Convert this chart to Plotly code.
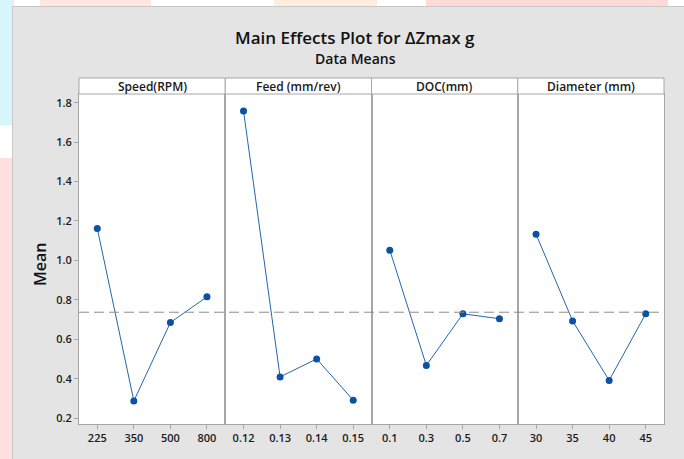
import plotly.graph_objects as go

# ---- data ----
factors = ["Speed(RPM)", "Feed (mm/rev)", "DOC(mm)", "Diameter (mm)"]
speed_levels = ["225", "350", "500", "800"]
speed_means = [1.162, 0.287, 0.685, 0.815]
feed_levels = ["0.12", "0.13", "0.14", "0.15"]
feed_means = [1.758, 0.409, 0.500, 0.291]
doc_levels = ["0.1", "0.3", "0.5", "0.7"]
doc_means = [1.052, 0.467, 0.729, 0.704]
dia_levels = ["30", "35", "40", "45"]
dia_means = [1.133, 0.693, 0.391, 0.729]
overall_mean = 0.737
y_ticks = [0.2, 0.4, 0.6, 0.8, 1.0, 1.2, 1.4, 1.6, 1.8]

levels = [speed_levels, feed_levels, doc_levels, dia_levels]
means = [speed_means, feed_means, doc_means, dia_means]

W, H = 684, 459
L, R, T, B = 79, 20, 94, 35
PW = W - L - R
PH = H - T - B


def px_x(p):
    return (p - L) / PW


def px_y(p):
    return (H - B - p) / PH


BORDER = "#a6a6a6"
TXT = "#1a1a1a"
FONT = "Open Sans"

fig = go.Figure()
layout = dict(
    width=W, height=H,
    margin=dict(l=L, r=R, t=T, b=B),
    paper_bgcolor="#e4e4e4",
    plot_bgcolor="white",
    showlegend=False,
    font=dict(family=FONT, color=TXT, size=11),
)

shapes = []
annotations = []
n = len(factors)
for i in range(n):
    xa = "x" if i == 0 else f"x{i+1}"
    ya = "y" if i == 0 else f"y{i+1}"
    xkey = "xaxis" if i == 0 else f"xaxis{i+1}"
    ykey = "yaxis" if i == 0 else f"yaxis{i+1}"
    d0, d1 = i / n, (i + 1) / n
    fig.add_trace(go.Scatter(
        x=levels[i], y=means[i], xaxis=xa, yaxis=ya,
        mode="lines+markers",
        line=dict(color="#2465ae", width=1),
        marker=dict(color="#0a52a3", size=7),
        hoverinfo="skip",
    ))
    layout[xkey] = dict(
        domain=[d0, d1], anchor=ya, type="category",
        range=[-0.5, 3.5], showgrid=False, zeroline=False,
        showline=True, mirror=True, linecolor=BORDER, linewidth=1,
        ticks="outside", ticklen=4, tickcolor=BORDER,
        tickfont=dict(size=11, color=TXT, family=FONT, weight=600),
    )
    ydict = dict(
        domain=[0, 1], anchor=xa, range=[0.17, 1.844],
        showgrid=False, zeroline=False,
        showline=True, mirror=True, linecolor=BORDER, linewidth=1,
    )
    if i == 0:
        ydict.update(tickvals=y_ticks, tickformat=".1f", ticks="outside",
                     ticklen=4, tickcolor=BORDER,
                     tickfont=dict(size=11, color=TXT, family=FONT, weight=600))
    else:
        ydict.update(matches="y", showticklabels=False, ticks="")
    layout[ykey] = ydict
    # header strip
    shapes.append(dict(type="rect", xref="paper", yref="paper",
                       x0=d0, x1=d1, y0=1, y1=1 + 16 / PH,
                       fillcolor="white", line=dict(color=BORDER, width=1)))
    annotations.append(dict(text=factors[i], xref="paper", yref="paper",
                            x=(d0 + d1) / 2, y=1 + 8 / PH, showarrow=False,
                            xanchor="center", yanchor="middle",
                            font=dict(size=12, color=TXT, family=FONT, weight=600)))

# overall mean dashed line
shapes.append(dict(type="line", xref="paper", yref="y", x0=0, x1=1,
                   y0=overall_mean, y1=overall_mean,
                   line=dict(color="#8c8c8c", width=1, dash="10px,5px")))

# outer decorations (left / top edge strips)
shapes += [
    dict(type="rect", xref="paper", yref="paper", layer="below",
         x0=px_x(0), x1=px_x(12), y0=px_y(0), y1=px_y(459),
         fillcolor="#ffe0e0", line=dict(width=0)),
    dict(type="rect", xref="paper", yref="paper", layer="below",
         x0=px_x(0), x1=px_x(12), y0=px_y(0), y1=px_y(125),
         fillcolor="#d6f6fb", line=dict(width=0)),
    dict(type="rect", xref="paper", yref="paper", layer="below",
         x0=px_x(0), x1=px_x(12), y0=px_y(125), y1=px_y(158),
         fillcolor="white", line=dict(width=0)),
    dict(type="rect", xref="paper", yref="paper", layer="below",
         x0=px_x(0), x1=px_x(684), y0=px_y(0), y1=px_y(6),
         fillcolor="white", line=dict(width=0)),
    dict(type="rect", xref="paper", yref="paper", layer="below",
         x0=px_x(0), x1=px_x(14), y0=px_y(0), y1=px_y(6),
         fillcolor="#d6f6fb", line=dict(width=0)),
    dict(type="rect", xref="paper", yref="paper", layer="below",
         x0=px_x(40), x1=px_x(151), y0=px_y(0), y1=px_y(6),
         fillcolor="#ffe6e0", line=dict(width=0)),
    dict(type="rect", xref="paper", yref="paper", layer="below",
         x0=px_x(274), x1=px_x(377), y0=px_y(0), y1=px_y(6),
         fillcolor="#ffeedd", line=dict(width=0)),
    dict(type="rect", xref="paper", yref="paper", layer="below",
         x0=px_x(426), x1=px_x(668), y0=px_y(0), y1=px_y(6),
         fillcolor="#ffdad6", line=dict(width=0)),
    dict(type="line", xref="paper", yref="paper", layer="below",
         x0=px_x(12), x1=px_x(684), y0=px_y(6.5), y1=px_y(6.5),
         line=dict(color="#c8c8c8", width=1)),
    dict(type="line", xref="paper", yref="paper", layer="below",
         x0=px_x(12.5), x1=px_x(12.5), y0=px_y(6.5), y1=px_y(459),
         line=dict(color="#c8c8c8", width=1)),
]

# titles
annotations += [
    dict(text="Main Effects Plot for ΔZmax g", xref="paper", yref="paper",
         x=px_x(355), y=px_y(37.5), showarrow=False, xanchor="center",
         yanchor="middle", font=dict(size=17, color="#111111", family=FONT, weight=600)),
    dict(text="Data Means", xref="paper", yref="paper",
         x=px_x(355), y=px_y(58.5), showarrow=False, xanchor="center",
         yanchor="middle", font=dict(size=14, color="#111111", family=FONT, weight=600)),
    dict(text="Mean", xref="paper", yref="paper", textangle=-90,
         x=px_x(40), y=px_y(265), showarrow=False, xanchor="center",
         yanchor="middle", font=dict(size=16, color="#111111", family=FONT, weight=600)),
]

layout["shapes"] = shapes
layout["annotations"] = annotations
fig.update_layout(**layout)
fig.write_html("out.html", config={"displayModeBar": False},
               post_script="document.body.style.margin='0';document.body.style.padding='0';")
